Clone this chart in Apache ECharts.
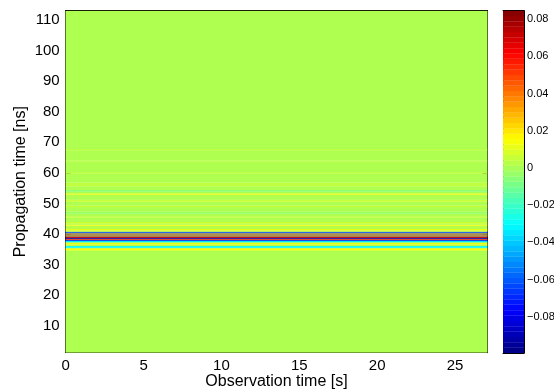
<!DOCTYPE html>
<html><head><meta charset="utf-8">
<script src="https://cdn.jsdelivr.net/npm/echarts@6/dist/echarts.min.js"></script>
<style>html,body{margin:0;padding:0;background:#fff}#c{width:554px;height:390px}</style>
</head><body><div id="c"></div><script>
// ---- data ----
const obsTimeRange = [0, 27.07];          // observation time [s] covered by the traces
const propTimeRange = [1.15, 113.05];     // propagation time [ns]
const colorRange = [-0.0994, 0.0845];     // colour scale limits
const xTickLabels = [0, 5, 10, 15, 20, 25];
const yTickLabels = [10, 20, 30, 40, 50, 60, 70, 80, 90, 100, 110];
const cbTickLabels = [-0.08, -0.06, -0.04, -0.02, 0, 0.02, 0.04, 0.06, 0.08];
// horizontal stripes (constant along observation time): edges in ns and amplitude of each stripe
const stripeEdges = [1.15, 34.7, 35.3, 35.5, 36.1, 36.6, 37.3, 37.7, 38.1, 38.45, 38.8, 39.1,
  39.26, 39.42, 39.58, 39.74, 39.9, 40.06, 40.22, 40.4, 40.75, 41.2, 41.6, 42.7, 43.1, 43.5, 43.9,
  45.4, 45.8, 46.6, 47.3, 48.8, 49.2, 50.6, 51.2, 52.8, 53.3, 53.8, 54.4, 55.5, 56.8, 59.8, 60.3,
  63.6, 64.0, 67.4, 67.8, 113.05];
const stripeValues = [0.001, 0.015, 0.002, -0.031, 0.004, 0.012, -0.028, -0.062, 0.05, -0.088, 0.074,
  0.068, -0.008, 0.068, -0.008, 0.068, -0.008, 0.068, -0.008, -0.065, 0.003, 0.013, 0.002, 0.013, 0.001,
  0.008, 0.001, 0.006, 0.001, -0.003, 0.001, 0.006, 0.001, 0.006, 0.001, 0.011, 0.001, -0.005, 0.001,
  0.004, 0.001, 0.004, 0.001, 0.004, 0.001, 0.004, 0.001];

// ---- build ----
const FONT = '"Liberation Sans", Arial, Helvetica, sans-serif';
const jet = ['#000080','#0000ff','#0080ff','#00ffff','#80ff80','#ffff00','#ff8000','#ff0000','#800000'];
const cells = stripeValues.map((v, i) => [obsTimeRange[0], obsTimeRange[1], stripeEdges[i], stripeEdges[i + 1], v]);
const nLev = 64, cb = [];
for (let i = 0; i < nLev; i++) {
  const lo = colorRange[0] + (colorRange[1] - colorRange[0]) * i / nLev;
  const hi = colorRange[0] + (colorRange[1] - colorRange[0]) * (i + 1) / nLev;
  cb.push([0, 1, lo, hi, (lo + hi) / 2]);
}
function cellItem(params, api) {
  const a = api.coord([api.value(0), api.value(3)]);
  const b = api.coord([api.value(1), api.value(2)]);
  const c = api.visual('color');
  return { type: 'rect', shape: { x: a[0], y: a[1], width: b[0] - a[0], height: b[1] - a[1] },
    style: { fill: c, stroke: c, lineWidth: 0.3 } };
}
const lineStyle = { color: '#000', width: 1 };
const tickStyle = { color: '#000', width: 1 };
function fmtCb(v) {
  if (!cbTickLabels.some(t => Math.abs(t - v) < 1e-9)) return '';
  if (Math.abs(v) < 1e-9) return '0';
  return (v < 0 ? '\u2212' : '') + Math.abs(v).toFixed(2);
}
const option = {
  backgroundColor: '#fff',
  animation: false,
  grid: [
    { left: 65.7, top: 10.7, width: 421.6, height: 342, outerBoundsMode: 'none', containLabel: false },
    { left: 503, top: 10.7, width: 21, height: 342.3, outerBoundsMode: 'none', containLabel: false }
  ],
  visualMap: { show: false, type: 'continuous', min: colorRange[0], max: colorRange[1], dimension: 4,
    seriesIndex: [0, 1], inRange: { color: jet } },
  xAxis: [
    { gridIndex: 0, type: 'value', position: 'bottom', min: obsTimeRange[0], max: obsTimeRange[1], interval: 5,
      axisLine: { onZero: false, lineStyle }, axisTick: { inside: true, length: 5, lineStyle: tickStyle },
      axisLabel: { color: '#000', fontSize: 15, fontFamily: FONT, margin: 6, showMaxLabel: false,
        formatter: v => xTickLabels.includes(v) ? String(v) : '' },
      splitLine: { show: false },
      name: 'Observation time [s]', nameLocation: 'middle', nameGap: 21, nameMoveOverlap: false,
      nameTextStyle: { color: '#000', fontSize: 16, fontFamily: FONT } },
    { gridIndex: 0, type: 'value', position: 'top', min: obsTimeRange[0], max: obsTimeRange[1], interval: 5,
      axisLine: { onZero: false, lineStyle }, axisTick: { inside: true, length: 5, lineStyle: tickStyle },
      axisLabel: { show: false }, splitLine: { show: false } },
    { gridIndex: 1, type: 'value', position: 'bottom', min: 0, max: 1,
      axisLine: { onZero: false, lineStyle }, axisTick: { show: false }, axisLabel: { show: false }, splitLine: { show: false } },
    { gridIndex: 1, type: 'value', position: 'top', min: 0, max: 1,
      axisLine: { onZero: false, lineStyle }, axisTick: { show: false }, axisLabel: { show: false }, splitLine: { show: false } }
  ],
  yAxis: [
    { gridIndex: 0, type: 'value', position: 'left', min: propTimeRange[0], max: propTimeRange[1],
      splitNumber: 11, minInterval: 10, maxInterval: 10,
      axisLine: { onZero: false, lineStyle }, axisTick: { inside: true, length: 5, lineStyle: tickStyle },
      axisLabel: { color: '#000', fontSize: 15, fontFamily: FONT, margin: 6, showMinLabel: false, showMaxLabel: false,
        formatter: v => yTickLabels.includes(v) ? String(v) : '' },
      splitLine: { show: false },
      name: 'Propagation time [ns]', nameLocation: 'middle', nameGap: 37, nameMoveOverlap: false,
      nameTextStyle: { color: '#000', fontSize: 16, fontFamily: FONT } },
    { gridIndex: 0, type: 'value', position: 'right', min: propTimeRange[0], max: propTimeRange[1],
      splitNumber: 11, minInterval: 10, maxInterval: 10,
      axisLine: { onZero: false, lineStyle }, axisTick: { inside: true, length: 5, lineStyle: tickStyle },
      axisLabel: { show: false }, splitLine: { show: false } },
    { gridIndex: 1, type: 'value', position: 'left', min: colorRange[0], max: colorRange[1],
      splitNumber: 9, minInterval: 0.02, maxInterval: 0.02,
      axisLine: { onZero: false, lineStyle }, axisTick: { inside: true, length: 4, lineStyle: tickStyle },
      axisLabel: { show: false }, splitLine: { show: false } },
    { gridIndex: 1, type: 'value', position: 'right', min: colorRange[0], max: colorRange[1],
      splitNumber: 9, minInterval: 0.02, maxInterval: 0.02,
      axisLine: { onZero: false, lineStyle }, axisTick: { inside: true, length: 4, lineStyle: tickStyle },
      axisLabel: { color: '#000', fontSize: 11, fontFamily: FONT, margin: 3, showMinLabel: false, showMaxLabel: false,
        formatter: fmtCb },
      splitLine: { show: false } }
  ],
  series: [
    { type: 'custom', name: 'amplitude', xAxisIndex: 0, yAxisIndex: 0, renderItem: cellItem, data: cells,
      clip: true, encode: { x: [0, 1], y: [2, 3] }, z: 1 },
    { type: 'custom', name: 'colorbar', xAxisIndex: 2, yAxisIndex: 2, renderItem: cellItem, data: cb,
      clip: true, encode: { x: [0, 1], y: [2, 3] }, z: 1 }
  ]
};
const chart = echarts.init(document.getElementById('c'), null, { renderer: 'canvas' });
chart.setOption(option);
</script></body></html>
